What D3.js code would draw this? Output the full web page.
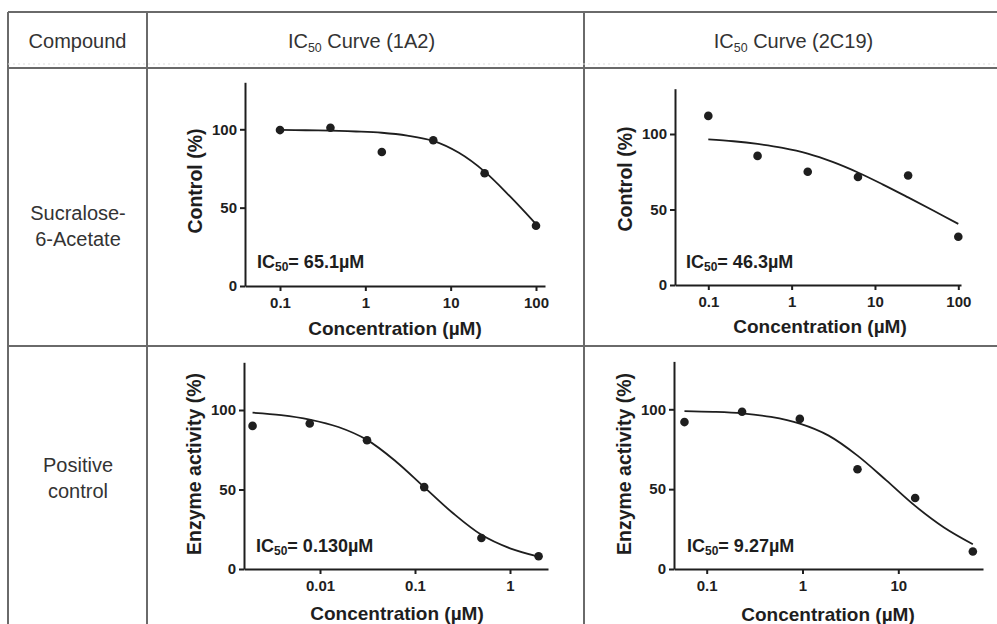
<!DOCTYPE html>
<html><head><meta charset="utf-8">
<script src="https://cdn.jsdelivr.net/npm/d3@7"></script>
<style>
html,body{margin:0;padding:0;background:#fff;}
svg{display:block;font-family:"Liberation Sans",Arial,Helvetica,sans-serif;}
</style></head>
<body>
<svg id="chart" width="997" height="624"></svg>
<script>
// ---------- data ----------
const headerLabels = ["Compound", "IC50 Curve (1A2)", "IC50 Curve (2C19)"];
const rowLabels = [["Sucralose-", "6-Acetate"], ["Positive", "control"]];
const yTicks = [0, 50, 100];
const yTitles = ["Control (%)", "Control (%)", "Enzyme activity (%)", "Enzyme activity (%)"];
const xTitle = "Concentration (µM)";
const ic50Values = ["65.1µM", "46.3µM", "0.130µM", "9.27µM"];

const xTicks1A2Top = [0.1, 1, 10, 100];
const xTicks2C19Top = [0.1, 1, 10, 100];
const xTicks1A2Pos = [0.01, 0.1, 1];
const xTicks2C19Pos = [0.1, 1, 10];

// Sucralose-6-Acetate, 1A2
const conc1 = [0.1, 0.39, 1.56, 6.25, 25, 100];
const vals1 = [99.5, 101, 85.5, 93, 72, 38.5];
const curveX1 = [0.1, 0.2, 0.39, 0.78, 1.56, 3.1, 6.25, 12.5, 25, 50, 100];
const curveY1 = [99.6, 99.4, 99.1, 98.6, 97.8, 96, 92.6, 85, 73, 57, 39.5];

// Sucralose-6-Acetate, 2C19
const conc2 = [0.1, 0.39, 1.56, 6.25, 25, 100];
const vals2 = [112, 85.5, 75, 71.5, 72.5, 32];
const curveX2 = [0.1, 0.2, 0.39, 0.78, 1.56, 3.1, 6.25, 12.5, 25, 50, 100];
const curveY2 = [96.5, 95.2, 93.4, 90.8, 87, 81.5, 74.5, 66.5, 58, 49.3, 40.5];

// Positive control, 1A2
const conc3 = [0.00195, 0.0078, 0.03125, 0.125, 0.5, 2];
const vals3 = [90, 91.5, 81, 51.5, 19.5, 8];
const curveX3 = [0.00195, 0.0039, 0.0078, 0.0156, 0.03125, 0.0625, 0.125, 0.25, 0.5, 1, 2];
const curveY3 = [98.3, 96.8, 94, 89.3, 81.2, 67.8, 51.5, 35.2, 21.5, 13, 7.8];

// Positive control, 2C19
const conc4 = [0.0586, 0.234, 0.9375, 3.75, 15, 60];
const vals4 = [92, 98.5, 94, 62.5, 44.5, 11];
const curveX4 = [0.0586, 0.117, 0.234, 0.469, 0.9375, 1.875, 3.75, 7.5, 15, 30, 60];
const curveY4 = [98.9, 98.4, 97.4, 95.2, 91, 83.5, 71, 55.5, 39.5, 26, 15.5];

// ---------- layout ----------
const svg = d3.select("#chart");
const W = 997, H = 624;
const gridColor = "#6a6a6a";
const textColor = "#333";
const ink = "#1e1e1e";

// table grid
const tLeft = 8, tTop = 12, hBottom = 68, rowDiv = 346, col1 = 147, col2 = 584;
const grid = svg.append("g").attr("stroke", gridColor).attr("stroke-width", 2);
[[tLeft, tTop, W, tTop], [tLeft, hBottom, W, hBottom], [tLeft, rowDiv, W, rowDiv],
 [tLeft, tTop, tLeft, H], [col1, tTop, col1, H], [col2, tTop, col2, H]]
  .forEach(d => grid.append("line").attr("x1", d[0]).attr("y1", d[1]).attr("x2", d[2]).attr("y2", d[3]));
// faint row under header
svg.append("line").attr("x1", tLeft).attr("x2", W).attr("y1", hBottom - 4).attr("y2", hBottom - 4)
  .attr("stroke", "#ddd").attr("stroke-width", 1).attr("stroke-dasharray", "2,3");

// header text
function subText(sel, parts, size) {
  parts.forEach(p => {
    const t = sel.append("tspan").text(p.t);
    if (p.sub) t.attr("font-size", size * 0.62).attr("dy", size * 0.2);
    else if (p.after) t.attr("dy", -size * 0.2);
  });
}
const headCx = [(tLeft + col1) / 2, (col1 + col2) / 2 - 4, (col2 + W) / 2 + 3];
headerLabels.forEach((lab, i) => {
  const t = svg.append("text").attr("x", headCx[i]).attr("y", 48)
    .attr("text-anchor", "middle").attr("font-size", 20).attr("fill", textColor);
  if (lab.startsWith("IC50")) {
    subText(t, [{t: "IC"}, {t: "50", sub: true}, {t: lab.slice(4), after: true}], 20);
  } else t.text(lab);
});

// row labels
const rowCy = [226, 478];
rowLabels.forEach((lines, r) => {
  lines.forEach((ln, k) => {
    svg.append("text").attr("x", 78).attr("y", rowCy[r] + (k - 0.5) * 26 + 7)
      .attr("text-anchor", "middle").attr("font-size", 20).attr("fill", textColor).text(ln);
  });
});

// ---------- panels ----------
const panels = [
  {conc: conc1, vals: vals1, cx: curveX1, cy: curveY1, ticks: xTicks1A2Top, fmt: d3.format("~g"),
   xa: [0.1, 280, 100, 536], xl: 245, xr: 545, y0: 286, y100: 129.3, tx: 202, tyc: 181, ic: [257, 268], title: [395, 335]},
  {conc: conc2, vals: vals2, cx: curveX2, cy: curveY2, ticks: xTicks2C19Top, fmt: d3.format("~g"),
   xa: [0.1, 708.3, 100, 958.3], xl: 675, xr: 961, y0: 285, y100: 134, tx: 632, tyc: 179, ic: [686, 268], title: [820, 333]},
  {conc: conc3, vals: vals3, cx: curveX3, cy: curveY3, ticks: xTicks1A2Pos, fmt: d3.format("~g"),
   xa: [0.01, 320, 1, 510], xl: 244, xr: 548, y0: 569, y100: 410, tx: 201, tyc: 464, ic: [256, 552], title: [397, 620]},
  {conc: conc4, vals: vals4, cx: curveX4, cy: curveY4, ticks: xTicks2C19Pos, fmt: d3.format("~g"),
   xa: [0.1, 706.7, 10, 898.3], xl: 674, xr: 983, y0: 569, y100: 409.3, tx: 631, tyc: 464, ic: [687, 552], title: [828, 621]}
];

panels.forEach((p, i) => {
  const g = svg.append("g");
  // x scale anchored on two ticks, domain extended to axis ends
  const xs0 = d3.scaleLog().domain([p.xa[0], p.xa[2]]).range([p.xa[1], p.xa[3]]);
  const x = d3.scaleLog().domain([xs0.invert(p.xl), xs0.invert(p.xr)]).range([p.xl, p.xr]);
  const ys0 = d3.scaleLinear().domain([0, 100]).range([p.y0, p.y100]);
  const y = d3.scaleLinear().domain([0, 130]).range([p.y0, ys0(130)]);

  const xAxis = g.append("g").attr("transform", `translate(0,${p.y0})`)
    .call(d3.axisBottom(x).tickValues(p.ticks).tickFormat(p.fmt).tickSize(5).tickSizeOuter(0).tickPadding(6));
  const yAxis = g.append("g").attr("transform", `translate(${p.xl},0)`)
    .call(d3.axisLeft(y).tickValues(yTicks).tickSize(5).tickSizeOuter(0).tickPadding(3));
  [xAxis, yAxis].forEach(a => {
    a.selectAll("path").attr("stroke", ink).attr("stroke-width", 2);
    a.selectAll("line").attr("stroke", ink).attr("stroke-width", 2);
    a.selectAll("text").attr("font-size", 15).attr("font-weight", "bold").attr("fill", ink)
      .attr("font-family", "'Liberation Sans',Arial,sans-serif");
  });

  // fitted curve
  const pts = p.cx.map((v, k) => [v, p.cy[k]]);
  g.append("path").datum(pts)
    .attr("d", d3.line().x(d => x(d[0])).y(d => y(d[1])).curve(d3.curveCatmullRom.alpha(0.5)))
    .attr("fill", "none").attr("stroke", ink).attr("stroke-width", 1.8);

  // data points
  g.selectAll("circle.pt").data(p.conc.map((c, k) => [c, p.vals[k]])).join("circle")
    .attr("class", "pt").attr("cx", d => x(d[0])).attr("cy", d => y(d[1])).attr("r", 4.3).attr("fill", ink);

  // axis titles
  g.append("text").attr("x", p.title[0]).attr("y", p.title[1]).attr("text-anchor", "middle")
    .attr("font-size", 19).attr("font-weight", "bold").attr("fill", ink).text(xTitle);
  g.append("text").attr("transform", `translate(${p.tx},${p.tyc}) rotate(-90)`).attr("text-anchor", "middle")
    .attr("font-size", 19.5).attr("font-weight", "bold").attr("fill", ink).text(yTitles[i]);

  // IC50 label
  const t = g.append("text").attr("x", p.ic[0]).attr("y", p.ic[1])
    .attr("font-size", 18).attr("font-weight", "bold").attr("fill", ink);
  t.append("tspan").text("IC");
  t.append("tspan").text("50").attr("font-size", 12).attr("dy", 3);
  t.append("tspan").text("= " + ic50Values[i]).attr("dy", -3);
});
</script>
</body></html>
